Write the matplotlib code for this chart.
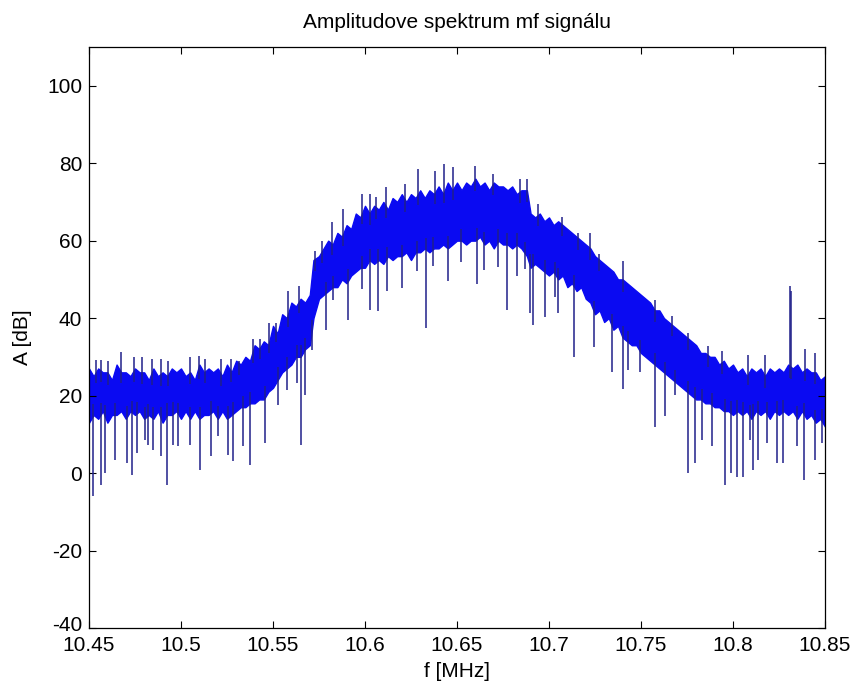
import numpy as np
import matplotlib.pyplot as plt
from matplotlib.pyplot import subplots
import matplotlib.transforms as mtransforms

plt.rcParams['font.family'] = ['Liberation Sans', 'DejaVu Sans']
plt.rcParams['axes.unicode_minus'] = False

# dense band of the spectrum: frequency [MHz], upper and lower edge [dB]
band_f = [10.4500, 10.4525, 10.4550, 10.4575, 10.4600, 10.4625, 10.4650,
          10.4675, 10.4700, 10.4725, 10.4750, 10.4775, 10.4800, 10.4825,
          10.4850, 10.4875, 10.4900, 10.4925, 10.4950, 10.4975, 10.5000,
          10.5025, 10.5050, 10.5075, 10.5100, 10.5125, 10.5150, 10.5175,
          10.5200, 10.5225, 10.5250, 10.5275, 10.5300, 10.5325, 10.5350,
          10.5375, 10.5400, 10.5425, 10.5450, 10.5475, 10.5500, 10.5525,
          10.5550, 10.5575, 10.5600, 10.5625, 10.5650, 10.5675, 10.5700,
          10.5720, 10.5750, 10.5775, 10.5800, 10.5825, 10.5850, 10.5875,
          10.5900, 10.5925, 10.5950, 10.5975, 10.6000, 10.6025, 10.6050,
          10.6075, 10.6100, 10.6125, 10.6150, 10.6175, 10.6200, 10.6225,
          10.6250, 10.6275, 10.6300, 10.6325, 10.6350, 10.6375, 10.6400,
          10.6425, 10.6450, 10.6475, 10.6500, 10.6525, 10.6550, 10.6575,
          10.6600, 10.6625, 10.6650, 10.6675, 10.6700, 10.6725, 10.6750,
          10.6775, 10.6800, 10.6825, 10.6850, 10.6880, 10.6900, 10.6925,
          10.6950, 10.6975, 10.7000, 10.7025, 10.7050, 10.7075, 10.7100,
          10.7125, 10.7150, 10.7175, 10.7200, 10.7225, 10.7250, 10.7275,
          10.7300, 10.7325, 10.7350, 10.7375, 10.7400, 10.7425, 10.7450,
          10.7475, 10.7500, 10.7525, 10.7550, 10.7575, 10.7600, 10.7625,
          10.7650, 10.7675, 10.7700, 10.7725, 10.7750, 10.7775, 10.7800,
          10.7825, 10.7850, 10.7875, 10.7900, 10.7925, 10.7950, 10.7975,
          10.8000, 10.8025, 10.8050, 10.8075, 10.8100, 10.8125, 10.8150,
          10.8175, 10.8200, 10.8225, 10.8250, 10.8275, 10.8300, 10.8325,
          10.8350, 10.8375, 10.8400, 10.8425, 10.8450, 10.8475, 10.8500]
band_hi = [27, 25, 27, 26, 26, 24, 28, 26, 26, 25, 27, 26, 26, 24, 27, 25,
           26, 25, 27, 26, 27, 25, 26, 24, 28, 26, 27, 26, 27, 25, 28, 26,
           29, 28, 30, 29, 33, 32, 34, 33, 38, 36, 41, 40, 44, 43, 45, 44,
           46, 55, 56, 58, 60, 59, 62, 61, 64, 63, 67, 66, 69, 67, 69, 68,
           70, 68, 71, 70, 72, 70, 72, 71, 73, 71, 73, 72, 74, 72, 75, 73,
           75, 73, 75, 74, 76, 74, 75, 73, 75, 74, 74, 73, 74, 72, 73, 73,
           67, 66, 67, 65, 66, 64, 65, 64, 63, 62, 61, 60, 59, 58, 56, 55,
           54, 53, 52, 50, 50, 49, 48, 47, 46, 45, 44, 42, 42, 40, 39, 38,
           37, 36, 35, 34, 33, 31, 31, 30, 30, 28, 29, 27, 28, 26, 27, 25,
           27, 26, 27, 25, 27, 26, 27, 26, 28, 27, 28, 26, 27, 26, 26, 24,
           25]
band_lo = [13, 15, 14, 16, 13, 15, 15, 16, 14, 16, 15, 16, 14, 15, 14, 16,
           13, 15, 15, 16, 14, 16, 14, 16, 14, 15, 15, 16, 14, 16, 14, 15,
           16, 17, 17, 18, 18, 19, 19, 21, 22, 24, 26, 27, 28, 30, 30, 32,
           33, 40, 45, 46, 47, 48, 48, 50, 49, 51, 52, 53, 53, 55, 54, 55,
           54, 56, 55, 56, 56, 57, 55, 57, 57, 58, 57, 58, 58, 59, 58, 59,
           60, 60, 59, 60, 60, 61, 59, 60, 58, 60, 59, 59, 58, 59, 58, 56,
           53, 54, 53, 52, 51, 52, 50, 51, 48, 49, 47, 48, 45, 44, 41, 42,
           39, 40, 37, 38, 35, 34, 33, 33, 31, 30, 29, 28, 27, 26, 25, 24,
           23, 22, 21, 20, 19, 19, 18, 18, 17, 17, 16, 16, 15, 16, 15, 16,
           14, 16, 15, 16, 14, 16, 15, 16, 15, 16, 14, 16, 14, 15, 13, 14,
           12]

# single deep notches below the band
dip_f = [10.4523, 10.4565, 10.4587, 10.4641, 10.4705, 10.4732, 10.4759,
         10.4804, 10.4823, 10.4850, 10.4891, 10.4926, 10.4958, 10.4986,
         10.5049, 10.5103, 10.5163, 10.5203, 10.5257, 10.5284, 10.5339,
         10.5375, 10.5457, 10.5529, 10.5574, 10.5629, 10.5652, 10.5674,
         10.5710, 10.5786, 10.5828, 10.5910, 10.5982, 10.6027, 10.6069,
         10.6118, 10.6200, 10.6281, 10.6330, 10.6372, 10.6452, 10.6520,
         10.6607, 10.6648, 10.6724, 10.6774, 10.6824, 10.6870, 10.6897,
         10.6915, 10.6978, 10.7033, 10.7051, 10.7136, 10.7246, 10.7341,
         10.7404, 10.7431, 10.7495, 10.7576, 10.7631, 10.7685, 10.7758,
         10.7794, 10.7830, 10.7885, 10.7957, 10.7987, 10.8020, 10.8056,
         10.8092, 10.8110, 10.8138, 10.8183, 10.8237, 10.8274, 10.8346,
         10.8388, 10.8446, 10.8482]
dip_val = [-6.0, -3.0, 0.0, 3.4, 2.6, -0.4, 5.2, 8.6, 7.3, 6.0, 4.3, -3.0,
           7.3, 6.9, 7.3, 0.9, 4.3, 9.5, 4.7, 3.0, 6.9, 2.2, 7.7, 17.6, 21.5,
           23.2, 7.3, 20.2, 31.8, 37.0, 44.8, 39.6, 47.4, 42.2, 41.8, 47.0,
           47.8, 52.1, 37.5, 53.4, 49.5, 54.4, 48.8, 52.3, 53.2, 42.0, 51.0,
           52.7, 41.2, 38.2, 40.3, 45.5, 41.2, 30.0, 32.6, 26.2, 21.8, 26.6,
           26.2, 12.0, 14.6, 20.2, 0.0, 2.6, 8.6, 6.9, -3.0, 0.0, -0.9, -0.9,
           8.6, 0.9, 3.4, 7.7, 2.6, 2.6, 6.9, -1.7, 3.4, 7.7]

# single peaks above the band
peak_f = [10.4540, 10.4565, 10.4603, 10.4673, 10.4745, 10.4790, 10.4840,
          10.4890, 10.4930, 10.5049, 10.5096, 10.5130, 10.5220, 10.5270,
          10.5318, 10.5390, 10.5430, 10.5480, 10.5514, 10.5580, 10.5640,
          10.5728, 10.5765, 10.5820, 10.5880, 10.5985, 10.6025, 10.6060,
          10.6115, 10.6220, 10.6290, 10.6380, 10.6430, 10.6480, 10.6598,
          10.6697, 10.6842, 10.6880, 10.6942, 10.7069, 10.7160, 10.7223,
          10.7270, 10.7404, 10.7576, 10.7667, 10.7758, 10.7866, 10.7938,
          10.8083, 10.8174, 10.8310, 10.8318, 10.8391, 10.8446]
peak_val = [29.3, 29.3, 29.0, 31.3, 30.0, 30.0, 29.5, 29.5, 29.0, 30.0,
            30.2, 29.5, 29.5, 29.5, 29.0, 34.5, 34.5, 38.8, 38.8, 47.0,
            48.3, 57.4, 60.0, 64.7, 68.2, 72.0, 72.0, 71.2, 73.8, 74.5,
            78.5, 78.0, 79.8, 78.9, 79.4, 77.1, 75.9, 76.0, 69.4, 66.0,
            62.1, 62.1, 56.5, 54.7, 44.8, 40.5, 36.2, 32.8, 31.5, 30.6,
            30.6, 48.3, 47.0, 31.9, 31.0]

x_ticks = [10.45, 10.5, 10.55, 10.6, 10.65, 10.7, 10.75, 10.8, 10.85]
x_labels = ['10.45', '10.5', '10.55', '10.6', '10.65', '10.7', '10.75',
            '10.8', '10.85']
y_ticks = [-40, -20, 0, 20, 40, 60, 80, 100]

fig, ax = subplots(figsize=(8.54, 6.9), dpi=100)
fig.subplots_adjust(left=0.1042, right=0.966, bottom=0.0899, top=0.9319)

blue = '#0a0af2'
dark = '#20208a'
ax.fill_between(band_f, band_lo, band_hi, color=blue, linewidth=1.0,
                edgecolor=blue)

dip_start = np.interp(dip_f, band_f, band_lo) + 3
ax.vlines(dip_f, dip_val, dip_start, color=dark, linewidth=1.1)
peak_start = np.interp(peak_f, band_f, band_hi) - 3
ax.vlines(peak_f, peak_start, peak_val, color=dark, linewidth=1.1)

ax.set_xlim(10.45, 10.85)
ax.set_ylim(-40, 110)
ax.set_xticks(x_ticks)
ax.set_xticklabels(x_labels)
ax.set_yticks(y_ticks)
ax.tick_params(direction='in', length=5, width=0.8, top=True, right=True,
               labelsize=15, colors='black')
ax.tick_params(axis='x', pad=5.5)
ax.tick_params(axis='y', pad=5)
for s in ax.spines.values():
    s.set_linewidth(0.9)
    s.set_color('black')

# the -40 label sits a little higher, as in the original
lab = ax.get_yticklabels()[0]
lab.set_transform(lab.get_transform() +
                  mtransforms.ScaledTranslation(0, 3 / 72, fig.dpi_scale_trans))

ax.set_title('Amplitudove spektrum mf signálu', fontsize=15, pad=14)
ax.set_xlabel('f [MHz]', fontsize=15, labelpad=5)
ax.set_ylabel('A [dB]', fontsize=15, labelpad=11)

fig.savefig('out.png', dpi=100)
